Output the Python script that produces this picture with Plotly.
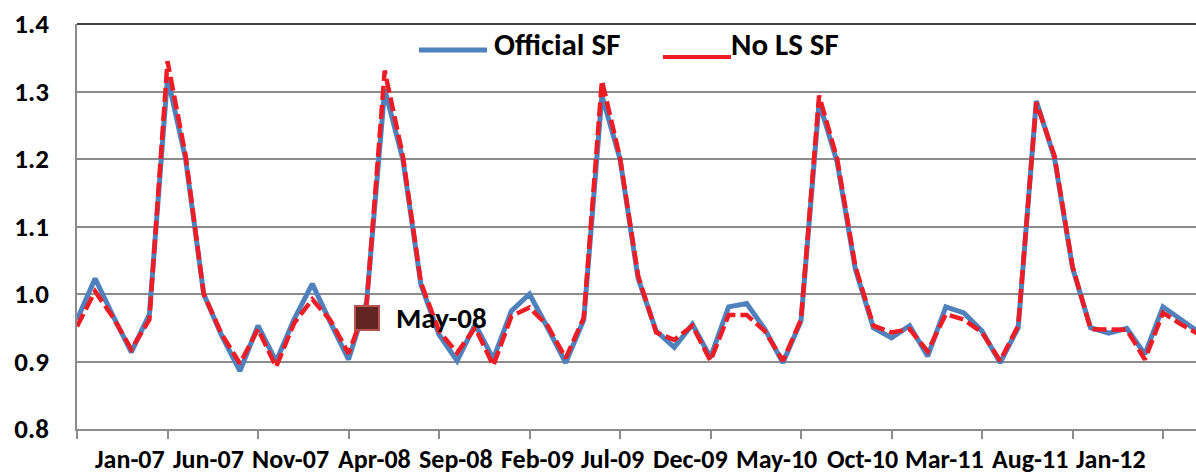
import plotly.graph_objects as go

months = [
    "Jan-07", "Feb-07", "Mar-07", "Apr-07", "May-07", "Jun-07", "Jul-07", "Aug-07", "Sep-07", "Oct-07", "Nov-07", "Dec-07",
    "Jan-08", "Feb-08", "Mar-08", "Apr-08", "May-08", "Jun-08", "Jul-08", "Aug-08", "Sep-08", "Oct-08", "Nov-08", "Dec-08",
    "Jan-09", "Feb-09", "Mar-09", "Apr-09", "May-09", "Jun-09", "Jul-09", "Aug-09", "Sep-09", "Oct-09", "Nov-09", "Dec-09",
    "Jan-10", "Feb-10", "Mar-10", "Apr-10", "May-10", "Jun-10", "Jul-10", "Aug-10", "Sep-10", "Oct-10", "Nov-10", "Dec-10",
    "Jan-11", "Feb-11", "Mar-11", "Apr-11", "May-11", "Jun-11", "Jul-11", "Aug-11", "Sep-11", "Oct-11", "Nov-11", "Dec-11",
    "Jan-12", "Feb-12", "Mar-12",
]

official_sf = [
    0.962, 1.023, 0.967, 0.914, 0.970, 1.321, 1.200, 1.000, 0.938, 0.886, 0.953, 0.900,
    0.963, 1.015, 0.958, 0.903, 0.988, 1.303, 1.200, 1.014, 0.940, 0.901, 0.955, 0.904,
    0.975, 1.000, 0.950, 0.898, 0.962, 1.294, 1.200, 1.023, 0.945, 0.921, 0.955, 0.906,
    0.981, 0.986, 0.948, 0.898, 0.960, 1.284, 1.195, 1.037, 0.950, 0.935, 0.953, 0.908,
    0.981, 0.972, 0.945, 0.898, 0.950, 1.286, 1.202, 1.039, 0.950, 0.942, 0.949, 0.911,
    0.981, 0.962, 0.943,
]

no_ls_sf = [
    0.952, 1.004, 0.965, 0.918, 0.962, 1.345, 1.205, 1.000, 0.940, 0.897, 0.948, 0.892,
    0.957, 0.992, 0.961, 0.912, 0.984, 1.331, 1.205, 1.017, 0.945, 0.913, 0.950, 0.894,
    0.967, 0.980, 0.953, 0.905, 0.965, 1.316, 1.202, 1.027, 0.943, 0.932, 0.953, 0.901,
    0.969, 0.969, 0.945, 0.901, 0.962, 1.294, 1.200, 1.041, 0.953, 0.943, 0.948, 0.915,
    0.970, 0.962, 0.943, 0.901, 0.953, 1.284, 1.205, 1.041, 0.948, 0.947, 0.947, 0.903,
    0.972, 0.955, 0.940,
]

tick_labels = ["Jan-07", "Jun-07", "Nov-07", "Apr-08", "Sep-08", "Feb-09", "Jul-09",
               "Dec-09", "May-10", "Oct-10", "Mar-11", "Aug-11", "Jan-12"]
y_ticks = [0.8, 0.9, 1.0, 1.1, 1.2, 1.3, 1.4]

BLUE = "#4F81BD"
RED = "#EE1C25"
GRID = "#8C8C8C"
FONT = "Carlito, Lato, sans-serif"

fig = go.Figure()
fig.add_trace(go.Scatter(x=months, y=official_sf, mode="lines", name="Official SF",
                         line=dict(color=BLUE, width=5), showlegend=False))
fig.add_trace(go.Scatter(x=months, y=no_ls_sf, mode="lines", name="No LS SF",
                         line=dict(color=RED, width=4.5, dash="14px,5px"), showlegend=False))

# plot area geometry (pixels) used for layout placement
L, R, T, B = 77, 1196, 24, 429
W, H = R - L, B - T
def px(xp):
    return (xp - L) / W
def py(yp):
    return (B - yp) / H

shapes = [
    # top frame line (black)
    dict(type="line", xref="paper", yref="paper", x0=0, x1=1, y0=1, y1=1,
         line=dict(color="#000000", width=1.5)),
    # legend samples
    dict(type="line", xref="paper", yref="paper", x0=px(419), x1=px(487), y0=py(50), y1=py(50),
         line=dict(color=BLUE, width=5)),
    dict(type="line", xref="paper", yref="paper", x0=px(663), x1=px(731), y0=py(57), y1=py(57),
         line=dict(color=RED, width=4)),
    # May-08 legend marker
    dict(type="rect", xref="paper", yref="paper", x0=px(355), x1=px(379), y0=py(330), y1=py(306),
         fillcolor="#632523", line=dict(color="#B65550", width=2)),
]

annotations = [
    dict(text="<b>Official SF</b>", xref="paper", yref="paper", x=px(492), y=py(44),
         xanchor="left", yanchor="middle", showarrow=False, font=dict(family=FONT, size=31, color="#000")),
    dict(text="<b>No LS SF</b>", xref="paper", yref="paper", x=px(729), y=py(44),
         xanchor="left", yanchor="middle", showarrow=False, font=dict(family=FONT, size=31, color="#000")),
    dict(text="<b>May-08</b>", xref="paper", yref="paper", x=px(394), y=py(318),
         xanchor="left", yanchor="middle", showarrow=False, font=dict(family=FONT, size=29, color="#000")),
]

# horizontal centres (pixels) of the category labels row, as laid out in the original
LABEL_CENTERS_PX = [130, 208, 290, 374, 456, 537, 612, 690, 776, 862, 944, 1030, 1111]
for cx, lab in zip(LABEL_CENTERS_PX, tick_labels):
    annotations.append(dict(text="<b>" + lab + "</b>", xref="paper", yref="paper",
                            x=px(cx), y=0, yshift=-30,
                            xanchor="center", yanchor="middle", showarrow=False,
                            font=dict(family=FONT, size=26, color="#000")))

fig.update_layout(
    width=1196, height=475,
    margin=dict(l=L, r=0, t=T, b=475 - B, pad=0),
    paper_bgcolor="white", plot_bgcolor="white",
    shapes=shapes, annotations=annotations,
    xaxis=dict(type="category", range=[0, (R - L) / 18.1], showgrid=False,
               showline=True, linecolor=GRID, linewidth=1.5,
               tickmode="array", tickvals=tick_labels, ticktext=[""] * len(tick_labels),
               ticks="outside", ticklen=8, tickcolor=GRID, tickwidth=1.5,
               zeroline=False),
    yaxis=dict(range=[0.8, 1.4], tickmode="array", tickvals=y_ticks,
               ticktext=["<b>%.1f</b>" % v for v in y_ticks],
               showgrid=True, gridcolor=GRID, gridwidth=1.5,
               showline=True, linecolor=GRID, linewidth=1.5,
               ticks="", ticklabelstandoff=21, zeroline=False,
               tickfont=dict(family=FONT, size=27, color="#000")),
    showlegend=False,
)

fig.write_html("out.html", config={"displayModeBar": False},
               post_script="document.body.style.margin='0';document.body.style.overflow='hidden';")
